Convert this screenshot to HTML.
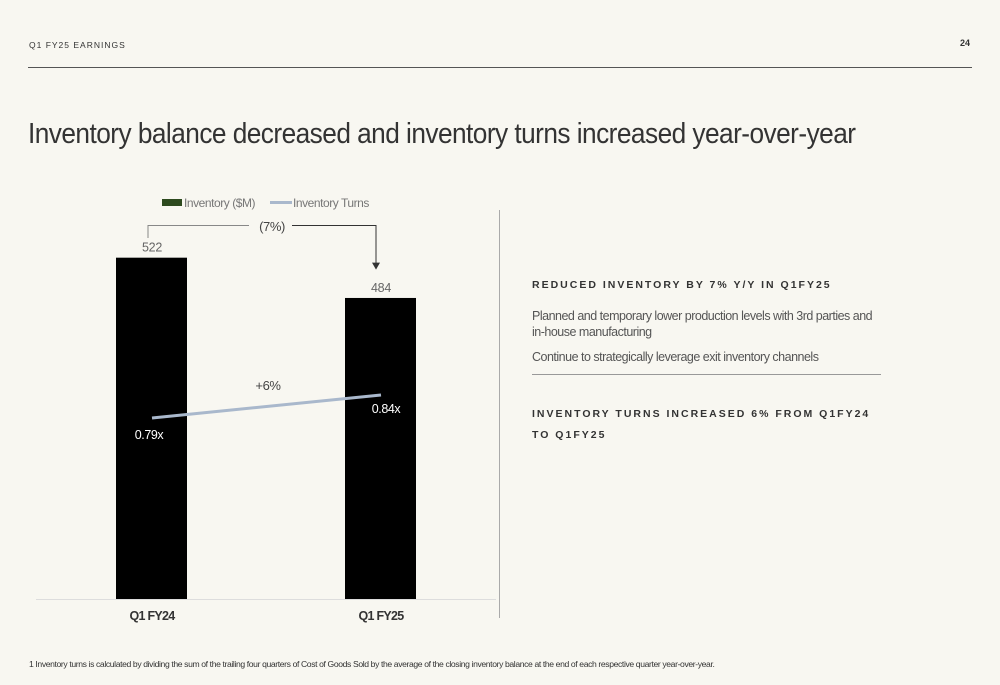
<!DOCTYPE html>
<html><head><meta charset="utf-8"><style>
body{margin:0;width:1000px;height:685px;background:#f8f7f1;font-family:"Liberation Sans",sans-serif;overflow:hidden;position:relative;color:#222}
.a{position:absolute;margin:0}
.cap{letter-spacing:2.0px;font-weight:bold;font-size:10.5px;color:#333}
.b{font-size:12.5px;color:#555;line-height:16px;letter-spacing:-0.5px}
</style></head><body>
<div class="a" style="left:29px;top:40px;font-size:8.5px;letter-spacing:1.0px;color:#333">Q1 FY25 EARNINGS</div>
<div class="a" style="left:960px;top:38px;font-size:9px;font-weight:bold;color:#333">24</div>
<div class="a" style="left:28px;top:67px;width:944px;height:1px;background:#555"></div>
<h1 class="a" style="left:28px;top:118px;font-size:29px;font-weight:normal;color:#333;letter-spacing:-0.6px;transform:scaleX(0.905);transform-origin:left top;white-space:nowrap">Inventory balance decreased and inventory turns increased year-over-year</h1>
<svg class="a" style="left:0;top:0" width="1000" height="685" id="chart"></svg>
<div class="a cap" style="left:532px;top:279px;white-space:nowrap">REDUCED INVENTORY BY 7% Y/Y IN Q1FY25</div>
<div class="a b" style="left:532px;top:308px;width:345px">Planned and temporary lower production levels with 3rd parties and in&#8209;house manufacturing</div>
<div class="a b" style="left:532px;top:349px">Continue to strategically leverage exit inventory channels</div>
<div class="a" style="left:532px;top:374px;width:349px;height:1px;background:#999"></div>
<div class="a cap" style="left:532px;top:404px;line-height:21px;white-space:nowrap;letter-spacing:2.0px">INVENTORY TURNS INCREASED 6% FROM Q1FY24<br>TO Q1FY25</div>
<div class="a" style="left:29px;top:659px;font-size:8.6px;color:#333;letter-spacing:-0.38px;white-space:nowrap">1 Inventory turns is calculated by dividing the sum of the trailing four quarters of Cost of Goods Sold by the average of the closing inventory balance at the end of each respective quarter year-over-year.</div>
<script>
const categories=["Q1 FY24","Q1 FY25"];
const inventory=[522,484];
const turns=[0.79,0.84];
const inventoryLabels=["522","484"];
const turnsLabels=["0.79x","0.84x"];
const changeLabels=["(7%)","+6%"];
const svg=document.getElementById('chart');const NS='http://www.w3.org/2000/svg';
function mk(t,a,txt){const e=document.createElementNS(NS,t);for(const k in a)e.setAttribute(k,a[k]);if(txt!=null)e.textContent=txt;svg.appendChild(e);return e;}
const xC=i=>152+i*229;
const yBar=v=>599-(v-200)*1.06;
const yTurn=v=>781.4-v*460;
let e;
e=mk('line',{x1:36,y1:599.5,x2:496,y2:599.5,stroke:'#ddd'});


e=mk('line',{x1:499.5,y1:210,x2:499.5,y2:618,stroke:'#aaa'});


inventory.forEach((v,i)=>{
 const y=yBar(v);
 e=mk('rect',{x:xC(i)-36,y:y,width:71,height:599-y,fill:'#000'});
 
 
 e=mk('text',{x:xC(i),y:y-6,'text-anchor':'middle','font-size':12.5,fill:'#666','letter-spacing':-0.3},inventoryLabels[i]);
 
 
 e=mk('text',{x:xC(i),y:620,'text-anchor':'middle','font-size':12.5,'font-weight':'bold',fill:'#333','letter-spacing':-0.7},categories[i]);
 
 
});
e=mk('polyline',{points:turns.map((v,i)=>xC(i)+','+yTurn(v)).join(' '),fill:'none',stroke:'#a9b8cc','stroke-width':3});


turns.forEach((v,i)=>{
 e=mk('text',{x:xC(i)-3+(i?8:0),y:yTurn(v)+(i?18:21),'text-anchor':'middle','font-size':12.5,fill:'#fff','letter-spacing':-0.4},turnsLabels[i]);
 
 
});
const yb=225.5;
e=mk('polyline',{points:`${xC(0)-4},238 ${xC(0)-4},${yb} 249,${yb}`,fill:'none',stroke:'#888'});


e=mk('polyline',{points:`292,${yb} ${xC(1)-5},${yb} ${xC(1)-5},${yBar(inventory[0])+6}`,fill:'none',stroke:'#333'});


e=mk('polygon',{points:`${xC(1)-9},${yBar(inventory[0])+5} ${xC(1)-1},${yBar(inventory[0])+5} ${xC(1)-5},${yBar(inventory[0])+12}`,fill:'#333'});


e=mk('text',{x:272,y:231,'text-anchor':'middle','font-size':13,fill:'#444','letter-spacing':-0.4},changeLabels[0]);


e=mk('text',{x:268,y:390,'text-anchor':'middle','font-size':13,fill:'#444','letter-spacing':-0.4},changeLabels[1]);


e=mk('rect',{x:162,y:199,width:20,height:7,fill:'#2d4a1e'});


e=mk('text',{x:184,y:207,'font-size':12,fill:'#777','letter-spacing':-0.45},'Inventory ($M)');


e=mk('line',{x1:270,y1:202.5,x2:292,y2:202.5,stroke:'#a9b8cc','stroke-width':3});


e=mk('text',{x:293,y:207,'font-size':12,fill:'#777','letter-spacing':-0.45},'Inventory Turns');


</script>
</body></html>
